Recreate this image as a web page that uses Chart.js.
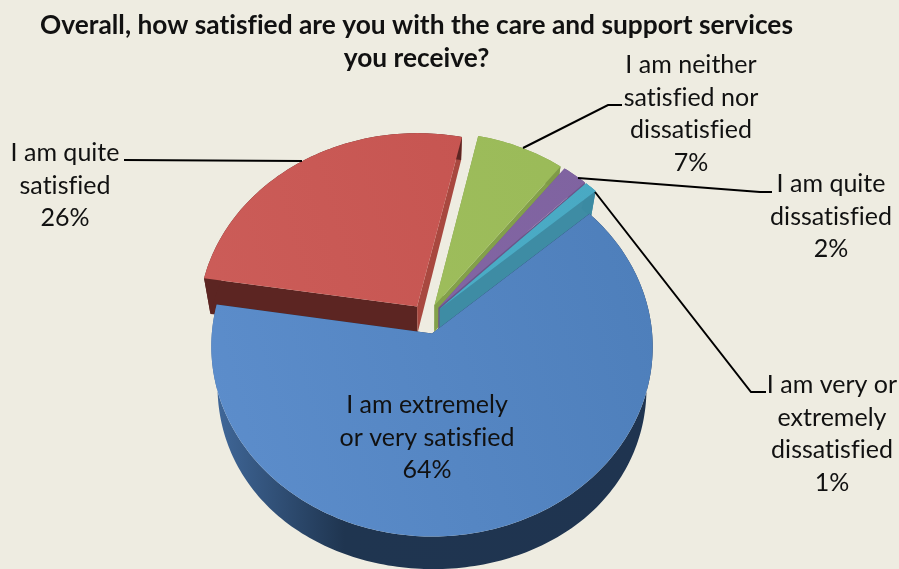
<!DOCTYPE html>
<html>
<head>
<meta charset="utf-8">
<title>Satisfaction with care and support services</title>
<script src="https://cdn.jsdelivr.net/npm/chart.js@4/dist/chart.umd.min.js"></script>
<style>
    html, body { margin: 0; padding: 0; background: #eeece1; overflow: hidden; }
    canvas { display: block; }
</style>
</head>
<body>
<canvas id="piechart" width="899" height="569"></canvas>
<script>
const categories = [
    'I am extremely or very satisfied',
    'I am quite satisfied',
    'I am neither satisfied nor dissatisfied',
    'I am quite dissatisfied',
    'I am very or extremely dissatisfied'
];
const shares = [64, 26, 7, 2, 1];
const labelLines = [
    ['I am extremely', 'or very satisfied'],
    ['I am quite', 'satisfied'],
    ['I am neither', 'satisfied nor', 'dissatisfied'],
    ['I am quite', 'dissatisfied'],
    ['I am very or', 'extremely', 'dissatisfied']
];
const titleLines = [
    'Overall, how satisfied are you with the care and support services',
    'you receive?'
];

// slice colours: top face pair, then radial walls and rim wall
const topColors = [
    ['#5c8dcb', '#4e7fbb'],
    ['#cc5d59', '#c4524e'],
    ['#a1c05f', '#9aba58'],
    ['#8567a6', '#7f63a0'],
    ['#4db0ca', '#49a9c3']
];
const startWalls = ['#1f3550', '#5c2522', '#7f9a48', '#6c5489', '#3b8aa2'];
const endWalls = ['#1f3550', '#a8483f', '#83a04a', '#6c5489', '#3e8ca4'];

// where each label block and its leader line sit
const labelCentres = [[427, 405], [65, 153], [691, 65], [831, 184], [832, 385]];
const leaders = [
    null,
    [[124, 160], [302, 161]],
    [[622, 105], [608, 105], [523, 148]],
    [[772, 192], [760, 192], [578, 178]],
    [[766, 392], [751, 392], [595, 192]]
];

const PIE_X = 427, PIE_Y = 319;
const RADIUS_X = 219, RADIUS_Y = 187, PERSPECTIVE = 0.0685;
const DEPTH = 27, DEPTH_GROW = 0.16, SIDE_GROW = 0.45, BASE_SHRINK = 0.972;

// flat pie position (unit disc) to screen
function project(u, v) {
    const w = 1 - PERSPECTIVE * v;
    return [PIE_X + RADIUS_X * u / w, PIE_Y + RADIUS_Y * v / w];
}

// the underside of the solid, a little narrower than the top
function projectBase(u, v) {
    const p = project(u, v);
    const drop = DEPTH / (1 - DEPTH_GROW * v) * (1 + SIDE_GROW * u * u * Math.min(1, 1 + v));
    return [PIE_X + 5 + (p[0] - PIE_X - 5) * BASE_SHRINK, p[1] + drop];
}

function sliceOutline(arc) {
    const mid = (arc.startAngle + arc.endAngle) / 2;
    const shift = (arc.options.offset || 0) / arc.outerRadius;
    const dx = shift * Math.cos(mid), dy = shift * Math.sin(mid);
    const steps = Math.max(2, Math.ceil((arc.endAngle - arc.startAngle) / 0.02));
    const rim = [];
    for (let i = 0; i <= steps; i++) {
        const a = arc.startAngle + (arc.endAngle - arc.startAngle) * i / steps;
        rim.push([dx + Math.cos(a), dy + Math.sin(a)]);
    }
    return { apex: [dx, dy], rim: rim };
}

function fillPoly(ctx, pts, style) {
    ctx.beginPath();
    pts.forEach((p, i) => i ? ctx.lineTo(p[0], p[1]) : ctx.moveTo(p[0], p[1]));
    ctx.closePath();
    ctx.fillStyle = style;
    ctx.fill();
}

function wallQuad(a, b) {
    return [project(a[0], a[1]), project(b[0], b[1]), projectBase(b[0], b[1]), projectBase(a[0], a[1])];
}

function rimGradient(ctx, index) {
    if (index !== 0) return startWalls[index];
    const g = ctx.createLinearGradient(212, 0, 653, 0);
    g.addColorStop(0, '#41699b');
    g.addColorStop(0.3, '#1f3550');
    g.addColorStop(1, '#1f3450');
    return g;
}

// draws the arcs computed by the pie controller as a tilted solid
const solidPie = {
    id: 'solidPie',
    beforeDraw(chart) {
        // a hair of letter spacing keeps "fi" from turning into a ligature
        chart.ctx.letterSpacing = '0.01px';
    },
    beforeDatasetsDraw(chart) {
        const ctx = chart.ctx;
        const arcs = chart.getDatasetMeta(0).data;
        // back to front: blue sits in front of everything else
        [1, 2, 3, 4, 0].forEach(i => {
            const shape = sliceOutline(arcs[i]);
            const rim = shape.rim;
            fillPoly(ctx, wallQuad(shape.apex, rim[0]), startWalls[i]);
            fillPoly(ctx, wallQuad(shape.apex, rim[rim.length - 1]), endWalls[i]);
            const top = rim.map(p => project(p[0], p[1]));
            const bottom = rim.map(p => projectBase(p[0], p[1])).reverse();
            fillPoly(ctx, top.concat(bottom), rimGradient(ctx, i));
            const g = ctx.createLinearGradient(210, 420, 650, 300);
            g.addColorStop(0, topColors[i][0]);
            g.addColorStop(1, topColors[i][1]);
            fillPoly(ctx, [project(shape.apex[0], shape.apex[1])].concat(top), g);
        });
        return false;
    }
};

const calloutLabels = {
    id: 'calloutLabels',
    afterDraw(chart) {
        const ctx = chart.ctx;
        ctx.save();
        ctx.strokeStyle = '#000';
        ctx.lineWidth = 2;
        leaders.forEach(line => {
            if (!line) return;
            ctx.beginPath();
            line.forEach((p, i) => i ? ctx.lineTo(p[0], p[1]) : ctx.moveTo(p[0], p[1]));
            ctx.stroke();
        });
        ctx.fillStyle = '#111';
        ctx.font = '25px Lato';
        ctx.textAlign = 'center';
        ctx.textBaseline = 'middle';
        labelLines.forEach((lines, i) => {
            const rows = lines.concat(shares[i] + '%');
            rows.forEach((text, n) => {
                ctx.fillText(text, labelCentres[i][0], labelCentres[i][1] + n * 32.7);
            });
        });
        ctx.restore();
    }
};

new Chart(document.getElementById('piechart').getContext('2d'), {
    type: 'pie',
    data: {
        labels: categories,
        datasets: [{
            data: shares,
            backgroundColor: topColors.map(c => c[0]),
            borderWidth: 0,
            offset: 19
        }]
    },
    options: {
        responsive: false,
        animation: false,
        rotation: 48.5,
        layout: { padding: { right: 66 } },
        plugins: {
            legend: { display: false },
            tooltip: { enabled: false },
            title: {
                display: true,
                text: titleLines,
                color: '#111',
                font: { family: 'Lato', size: 26.3, weight: 'bold', lineHeight: 1.25 },
                padding: { top: 9, bottom: 4 }
            }
        }
    },
    plugins: [solidPie, calloutLabels]
});
</script>
</body>
</html>
